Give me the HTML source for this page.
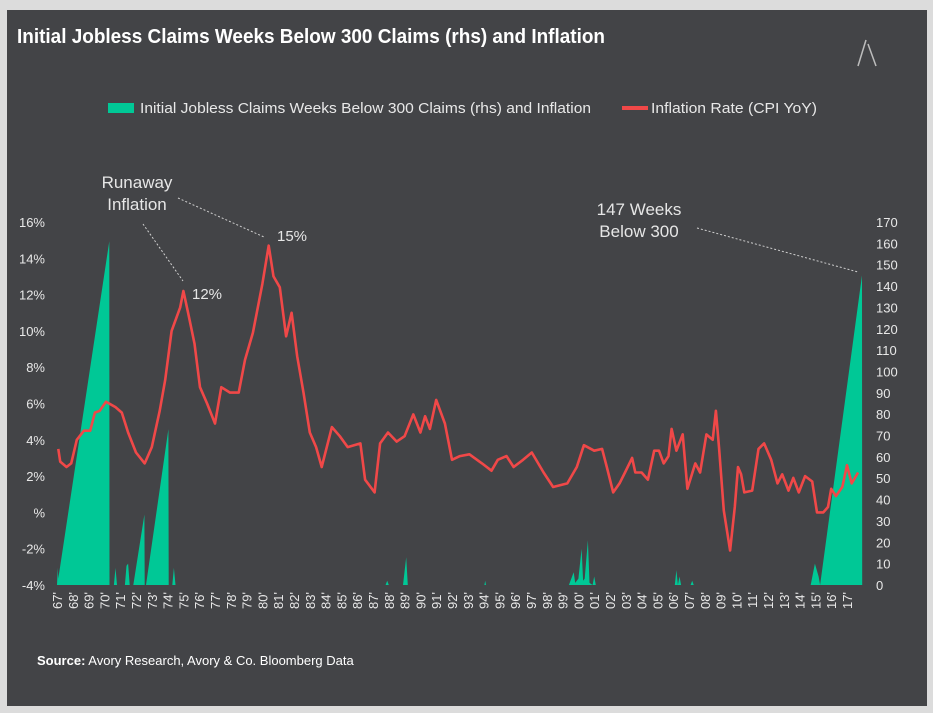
<!DOCTYPE html>
<html><head><meta charset="utf-8"><style>
html,body{margin:0;padding:0;background:#dcdcdc;}
svg{display:block;font-family:"Liberation Sans",sans-serif;}
</style></head><body>
<svg id="chart" width="933" height="713">
<rect x="0" y="0" width="933" height="713" fill="#dcdcdc"/>
<rect x="7" y="10" width="920" height="696" fill="#434447"/>
<text x="17" y="43" fill="#fff" font-size="20" font-weight="bold" textLength="588" lengthAdjust="spacingAndGlyphs">Initial Jobless Claims Weeks Below 300 Claims (rhs) and Inflation</text>
<g stroke="#bdbdbd" stroke-width="1.5" fill="none"><line x1="858" y1="66" x2="866" y2="40"/><line x1="868" y1="44" x2="876" y2="66"/></g>
<g>
<rect x="108" y="103" width="26" height="10" fill="#00c896"/>
<text x="140" y="113" fill="#e8e8e8" font-size="15" textLength="451" lengthAdjust="spacingAndGlyphs">Initial Jobless Claims Weeks Below 300 Claims (rhs) and Inflation</text>
<rect x="622" y="106" width="26" height="4" fill="#f04848"/>
<text x="651" y="113" fill="#e8e8e8" font-size="15" textLength="166" lengthAdjust="spacingAndGlyphs">Inflation Rate (CPI YoY)</text>
</g>
<g id="axes"></g>
<g id="marks"></g>
<g font-size="17" fill="#e6e6e6">
<text x="137" y="188" text-anchor="middle">Runaway</text>
<text x="137" y="210" text-anchor="middle">Inflation</text>
<line x1="143" y1="224" x2="183" y2="281" stroke="#cfcfcf" stroke-dasharray="2,2"/>
<line x1="178" y1="198" x2="264" y2="237" stroke="#cfcfcf" stroke-dasharray="2,2"/>
<text x="192" y="299" font-size="15">12%</text>
<text x="277" y="241" font-size="15">15%</text>
<text x="639" y="215" text-anchor="middle">147 Weeks</text>
<text x="639" y="237" text-anchor="middle">Below 300</text>
<line x1="697" y1="228" x2="858" y2="272" stroke="#cfcfcf" stroke-dasharray="2,2"/>
</g>
<text x="37" y="665" fill="#fff" font-size="13"><tspan font-weight="bold">Source:</tspan> Avory Research, Avory &amp; Co. Bloomberg Data</text>
</svg>
<script>
const leftTicks = ["-4%","-2%","%","2%","4%","6%","8%","10%","12%","14%","16%"];
const leftTickValues = [-4,-2,0,2,4,6,8,10,12,14,16];
const rightTickValues = [0,10,20,30,40,50,60,70,80,90,100,110,120,130,140,150,160,170];
const yearLabels = ["67","68","69","70","71","72","73","74","75","76","77","78","79","80","81","82","83","84","85","86","87","88","89","90","91","92","93","94","95","96","97","98","99","00","01","02","03","04","05","06","07","08","09","10","11","12","13","14","15","16","17"];
const claimsT = [1967.0,1967.05,1967.08,1970.31,1970.32,1970.6,1970.7,1970.8,1971.3,1971.4,1971.5,1971.6,1971.83,1972.53,1972.55,1972.63,1974.05,1974.07,1974.3,1974.4,1974.5,1987.8,1987.9,1988.0,1988.9,1989.1,1989.2,1994.05,1994.1,1994.15,1999.4,1999.7,1999.8,2000.0,2000.2,2000.3,2000.4,2000.6,2000.7,2000.9,2001.0,2001.1,2006.1,2006.2,2006.3,2006.4,2006.5,2007.1,2007.2,2007.3,2014.7,2014.97,2015.2,2015.3,2017.95,2017.96];
const claimsV = [0,8,3,161,0,0,8,0,0,9,10,0,0,33,0,0,73,0,0,8,0,0,2,0,0,13,0,0,2,0,0,6,1,3,17,2,3,21,1,0,4,0,0,7,0,4,0,0,2,0,0,10,4,0,145,0];
const inflT = [1967.08,1967.2,1967.6,1967.9,1968.25,1968.7,1969.1,1969.4,1969.7,1970.1,1970.7,1971.1,1971.5,1972.0,1972.55,1973.0,1973.5,1973.85,1974.25,1974.8,1975.0,1975.3,1975.7,1976.05,1976.5,1977.0,1977.4,1977.95,1978.5,1978.9,1979.4,1980.0,1980.4,1980.7,1981.1,1981.5,1981.85,1982.2,1982.6,1983.0,1983.4,1983.75,1984.4,1984.9,1985.4,1986.2,1986.5,1987.1,1987.45,1987.95,1988.5,1989.0,1989.55,1990.0,1990.3,1990.6,1991.0,1991.55,1992.0,1992.5,1993.1,1993.9,1994.5,1994.9,1995.45,1995.9,1996.5,1997.05,1997.8,1998.4,1999.3,1999.9,2000.35,2001.0,2001.5,2001.8,2002.2,2002.6,2002.95,2003.4,2003.6,2004.0,2004.4,2004.8,2005.1,2005.4,2005.7,2005.9,2006.2,2006.6,2006.9,2007.4,2007.7,2008.1,2008.5,2008.7,2008.9,2009.2,2009.6,2009.9,2010.1,2010.3,2010.5,2011.0,2011.4,2011.75,2012.2,2012.6,2012.9,2013.3,2013.6,2013.95,2014.35,2014.8,2015.1,2015.5,2015.8,2016.0,2016.3,2016.7,2017.0,2017.3,2017.7];
const inflV = [3.5,2.8,2.5,2.7,4.0,4.5,4.5,5.5,5.6,6.1,5.8,5.5,4.4,3.3,2.7,3.6,5.6,7.3,10.0,11.3,12.2,11.0,9.3,6.9,6.0,4.9,6.9,6.6,6.6,8.4,9.9,12.6,14.7,13.0,12.4,9.7,11.0,8.6,6.6,4.4,3.6,2.5,4.7,4.2,3.6,3.8,1.8,1.1,3.8,4.4,3.9,4.2,5.4,4.4,5.3,4.6,6.2,4.9,2.9,3.1,3.2,2.7,2.3,2.9,3.1,2.5,2.9,3.3,2.2,1.4,1.6,2.5,3.7,3.4,3.5,2.5,1.1,1.6,2.2,3.0,2.2,2.2,1.8,3.4,3.4,2.7,3.1,4.6,3.4,4.3,1.3,2.7,2.2,4.3,4.0,5.6,3.6,0.1,-2.1,0.3,2.5,2.1,1.1,1.2,3.5,3.8,2.9,1.6,2.1,1.2,1.9,1.1,2.0,1.7,0.0,0.0,0.3,1.3,0.9,1.4,2.6,1.6,2.2];

const NS = "http://www.w3.org/2000/svg";
const X0 = 57, PXY = 15.8, YB = 585, YT = 222;
function xScale(t){ return X0 + (t - 1967) * PXY; }
function yLeft(v){ return YB - (v + 4) / 20 * (YB - YT); }
function yRight(v){ return YB - v / 170 * (YB - YT); }
function mk(tag, attrs, parent){ const e = document.createElementNS(NS, tag); for (const k in attrs) e.setAttribute(k, attrs[k]); parent.appendChild(e); return e; }
const axes = document.getElementById('axes');
const marks = document.getElementById('marks');

leftTickValues.forEach((v, i) => {
  const t = mk('text', {x: 45, y: yLeft(v) + 5, 'text-anchor': 'end', fill: '#e8e8e8', 'font-size': 13}, axes);
  t.textContent = leftTicks[i];
  
  
});
rightTickValues.forEach(v => {
  const t = mk('text', {x: 876, y: yRight(v) + 5, fill: '#e8e8e8', 'font-size': 13}, axes);
  t.textContent = String(v);
  
  
});
yearLabels.forEach((lab, i) => {
  const x = xScale(1967 + i) + 5;
  const t = mk('text', {x: 0, y: 0, transform: 'translate(' + x + ',592) rotate(-90)', 'text-anchor': 'end', fill: '#e8e8e8', 'font-size': 13}, axes);
  t.textContent = lab + "'";
  
  
});

let pts = claimsT.map((t, i) => xScale(t).toFixed(1) + ',' + yRight(claimsV[i]).toFixed(1));
pts.unshift(xScale(claimsT[0]).toFixed(1) + ',' + yRight(0));
pts.push(xScale(claimsT[claimsT.length - 1]).toFixed(1) + ',' + yRight(0));
const area = mk('polygon', {points: pts.join(' '), fill: '#00c896'}, marks);



const lp = inflT.map((t, i) => xScale(t).toFixed(1) + ',' + yLeft(inflV[i]).toFixed(1)).join(' ');
const line = mk('polyline', {points: lp, fill: 'none', stroke: '#f04848', 'stroke-width': 2.6, 'stroke-linejoin': 'round'}, marks);


</script>
</body></html>
